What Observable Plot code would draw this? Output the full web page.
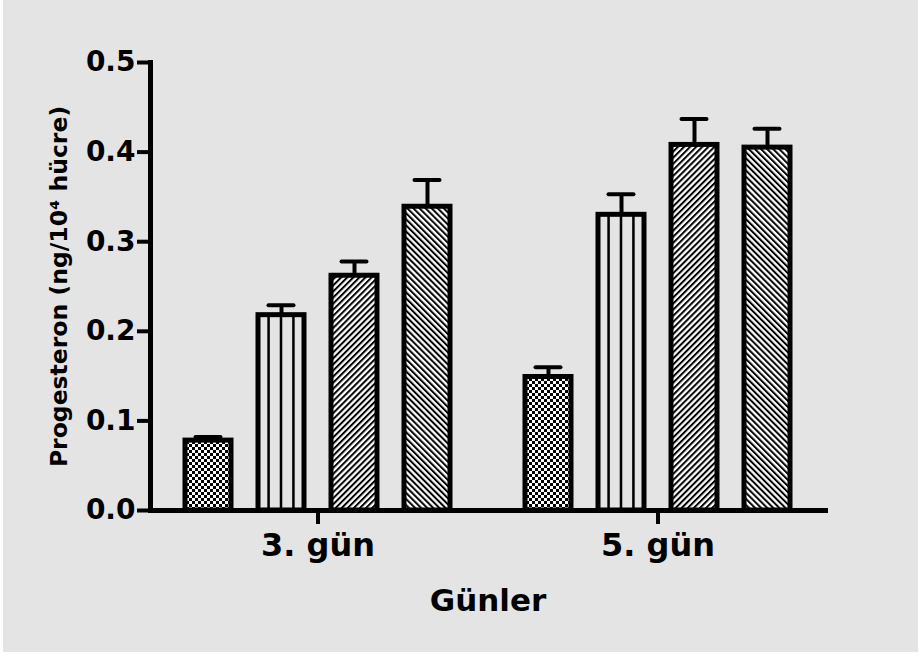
<!DOCTYPE html>
<html><head><meta charset="utf-8">
<script src="https://cdn.jsdelivr.net/npm/d3@7"></script>
<script src="https://cdn.jsdelivr.net/npm/@observablehq/plot@0.6"></script>
<style>
html,body{margin:0;padding:0;background:#fff;}
#chart{padding:0 2px 5px 3px;width:915px;}
#chart svg{display:block;}
</style></head><body><div id="chart"></div>
<script>
const days = ["3. gün", "5. gün"];
const groups = ["1", "2", "3", "4"];
const values3 = [0.078, 0.218, 0.262, 0.339];
const errors3 = [0.004, 0.011, 0.016, 0.030];
const values5 = [0.149, 0.330, 0.408, 0.405];
const errors5 = [0.011, 0.023, 0.029, 0.021];
const yTicks = [0, 0.1, 0.2, 0.3, 0.4, 0.5];
const patternIds = ["pChecker", "pVertical", "pForward", "pBack"];

const rows = [];
days.forEach((day, i) => {
  const vals = i === 0 ? values3 : values5;
  const errs = i === 0 ? errors3 : errors5;
  groups.forEach((g, j) => rows.push({day, group: g, value: vals[j], top: vals[j] + errs[j]}));
});

const font = "'DejaVu Sans', sans-serif";
const chart = Plot.plot({
  width: 915, height: 652,
  marginLeft: 147, marginRight: 93, marginTop: 62, marginBottom: 142,
  style: {background: "#e4e4e4", fontFamily: font, color: "#000", overflow: "visible"},
  fx: {domain: days, padding: 0.015},
  x: {domain: groups, paddingInner: 0.37, paddingOuter: 0.45, axis: null},
  y: {domain: [0, 0.5]},
  color: {domain: groups, range: patternIds.map(id => `url(#${id})`)},
  marks: [
    Plot.ruleX(rows, {fx: "day", x: "group", y1: "value", y2: "top", stroke: "#000", strokeWidth: 4}),
    Plot.barY(rows, {fx: "day", x: "group", y: "value", fill: "group", stroke: "#000", strokeWidth: 5}),
    Plot.tickY(rows, {fx: "day", x: "group", y: "top", stroke: "#000", strokeWidth: 4, strokeLinecap: "round", insetLeft: 10.5, insetRight: 10.5}),
    Plot.frame({anchor: "bottom", facet: "super", stroke: "#000", strokeWidth: 5}),
    Plot.frame({anchor: "left", facet: "super", stroke: "#000", strokeWidth: 5}),
    Plot.axisY({ticks: yTicks, tickFormat: d3.format(".1f"), tickSize: 13, tickPadding: 2, strokeWidth: 4, fontSize: 28, fontWeight: "bold", label: null}),
    Plot.axisY({ticks: [], tickSize: 0, label: "Progesteron (ng/10⁴ hücre)", labelAnchor: "center", labelArrow: false, labelOffset: 100, fontSize: 23.5, fontWeight: "bold"}),
    Plot.axisFx({anchor: "bottom", tickSize: 14, tickPadding: 9, strokeWidth: 4, fontSize: 32, fontWeight: "bold", label: null}),
    Plot.axisFx({anchor: "bottom", ticks: [], tickSize: 0, label: "Günler", labelAnchor: "center", labelArrow: false, labelOffset: 100, fontSize: 31, fontWeight: "bold"})
  ]
});

const svg = d3.select(chart.tagName.toLowerCase() === "svg" ? chart : chart.querySelector("svg"));
const defs = svg.insert("defs", ":first-child");
// checker
let p = defs.append("pattern").attr("id", "pChecker").attr("patternUnits", "userSpaceOnUse").attr("width", 6).attr("height", 6);
p.append("rect").attr("width", 6).attr("height", 6).attr("fill", "#fff");
p.append("rect").attr("width", 3).attr("height", 3).attr("fill", "#000");
p.append("rect").attr("x", 3).attr("y", 3).attr("width", 3).attr("height", 3).attr("fill", "#000");
// vertical lines
p = defs.append("pattern").attr("id", "pVertical").attr("patternUnits", "objectBoundingBox").attr("patternContentUnits", "objectBoundingBox").attr("width", 1).attr("height", 1);
p.append("rect").attr("width", 1).attr("height", 1).attr("fill", "#e4e4e4");
[0.23, 0.5, 0.77].forEach(c => p.append("rect").attr("x", c - 0.0275).attr("width", 0.055).attr("height", 1).attr("fill", "#000"));
// diagonal lines
[["pForward", 45], ["pBack", -45]].forEach(([id, a]) => {
  const q = defs.append("pattern").attr("id", id).attr("patternUnits", "userSpaceOnUse").attr("width", 4.3).attr("height", 4.3).attr("patternTransform", `rotate(${a})`);
  q.append("rect").attr("width", 4.3).attr("height", 4.3).attr("fill", "#fff");
  q.append("rect").attr("width", 2).attr("height", 4.3).attr("fill", "#000");
});

document.getElementById("chart").appendChild(chart);
</script></body></html>
